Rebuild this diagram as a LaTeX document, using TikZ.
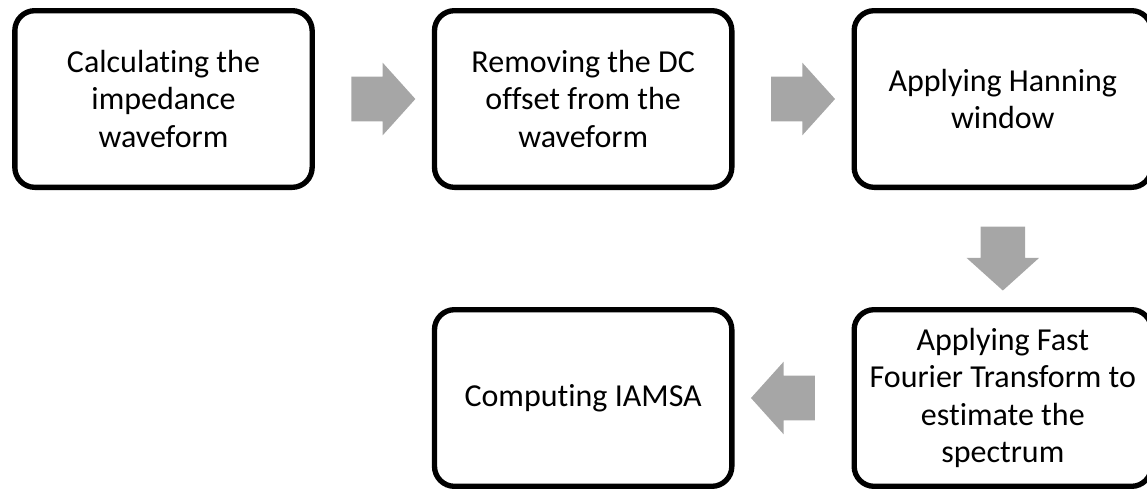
\documentclass[tikz,border=0pt]{standalone}
\usepackage{fontspec}
\setmainfont{Carlito}[Ligatures={NoCommon}]
\usepackage{tikz}
\usepackage{xcolor}
\usetikzlibrary{shapes.arrows}
\usetikzlibrary{positioning}
\usetikzlibrary{calc}
\definecolor{arrowgray}{HTML}{A6A6A6}
\tikzstyle{stage} = [rectangle, rounded corners=15pt, minimum width=223pt, minimum height=132.5pt, text centered, align=center, draw=black, line width=4pt, font=\fontsize{24pt}{28pt}\selectfont]
\tikzstyle{blockarrow} = [single arrow, draw=none, fill=arrowgray, inner xsep=0pt, inner ysep=16.5pt, minimum height=48pt, single arrow head extend=10.5pt, single arrow tip angle=96]

\begin{document}
\begin{tikzpicture}[x=0.75pt, y=-0.75pt, node distance=87.75pt]
        \useasboundingbox (0,0) rectangle (1147,489);
        \node (calc) [stage] at (163.5,99) {Calculating the\\impedance\\waveform};
        \node (remdc) [stage, right=of calc] {Removing the DC\\offset from the\\waveform};
        \node (hann) [stage, right=of remdc] {Applying Hanning\\window};
        \node (fft) [stage, below=of hann] {Applying Fast\\Fourier Transform to\\estimate the\\spectrum};
        \node (iamsa) [stage, left=of fft] {Computing IAMSA};

        \node (arr1) [blockarrow] at ($(calc.east)!0.5!(remdc.west)$) {};
        \node (arr2) [blockarrow] at ($(remdc.east)!0.5!(hann.west)$) {};
        \node (arr3) [blockarrow, rotate=-90] at ($(hann.south)!0.5!(fft.north)$) {};
        \node (arr4) [blockarrow, rotate=180] at ($(fft.west)!0.5!(iamsa.east)$) {};
    \end{tikzpicture}
\end{document}
